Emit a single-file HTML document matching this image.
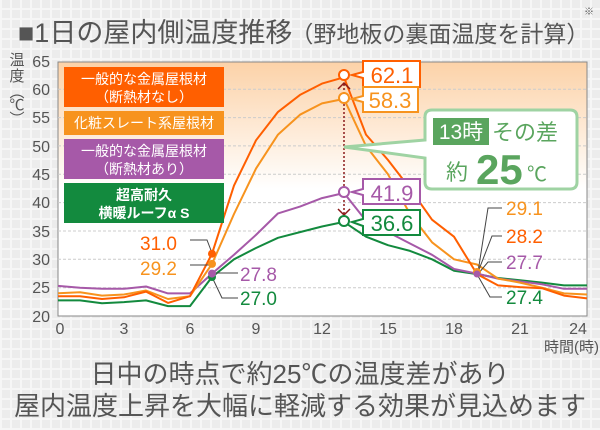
<!DOCTYPE html>
<html><head><meta charset="utf-8"><style>
body{margin:0;width:600px;height:430px;overflow:hidden;background:#ececec;
background-image:repeating-linear-gradient(90deg,#f6f6f6 0 2px,transparent 2px 10px),repeating-linear-gradient(0deg,#f6f6f6 0 2px,transparent 2px 10px);}
svg{position:absolute;left:0;top:0;font-family:"Liberation Sans","Noto Sans CJK JP",sans-serif}
</style></head><body>
<svg width="600" height="430" viewBox="0 0 600 430">
<defs><linearGradient id="g" x1="0" y1="0" x2="0" y2="1"><stop offset="0" stop-color="#fcd2a8"/><stop offset="0.5" stop-color="#fff"/><stop offset="1" stop-color="#fff"/></linearGradient></defs>
<text x="18" y="42" font-size="27" fill="#555">■1日の屋内側温度推移<tspan font-size="23" dx="-2">（野地板の裏面温度を計算）</tspan></text>
<text x="584" y="15" font-size="10" fill="#555">※</text>
<rect x="58" y="62" width="529" height="254" fill="url(#g)" stroke="#888" stroke-width="1"/>
<g stroke="#ccc" stroke-dasharray="3,2" stroke-width="1">
<line x1="58" x2="587" y1="89.2" y2="89.2"/><line x1="58" x2="587" y1="117.6" y2="117.6"/><line x1="58" x2="587" y1="145.9" y2="145.9"/><line x1="58" x2="587" y1="174.3" y2="174.3"/><line x1="58" x2="587" y1="202.6" y2="202.6"/><line x1="58" x2="587" y1="231" y2="231"/><line x1="58" x2="587" y1="259.3" y2="259.3"/><line x1="58" x2="587" y1="287.7" y2="287.7"/>
</g>
<g font-size="16" fill="#555" text-anchor="end">
<text x="50" y="67">65</text><text x="50" y="95">60</text><text x="50" y="123">55</text><text x="50" y="152">50</text><text x="50" y="180">45</text><text x="50" y="208">40</text><text x="50" y="237">35</text><text x="50" y="265">30</text><text x="50" y="293">25</text><text x="50" y="322">20</text>
</g>
<g font-size="16" fill="#555" text-anchor="middle">
<text x="60" y="334">0</text><text x="124" y="334">3</text><text x="190" y="334">6</text><text x="256" y="334">9</text><text x="322" y="334">12</text><text x="388" y="334">15</text><text x="454" y="334">18</text><text x="520" y="334">21</text><text x="578" y="334">24</text>
</g>
<text x="544" y="352" font-size="15" fill="#555">時間(時)</text>
<g font-size="15" fill="#555" text-anchor="middle"><text x="17" y="65">温</text><text x="17" y="81">度</text><text x="17" y="97">︵</text><text x="17" y="110">℃</text><text x="17" y="124">︶</text></g>
<g fill="none" stroke-width="2" stroke-linejoin="round">
<polyline stroke="#138a3e" points="58,300.4 80,300.4 102,303.2 124,302.1 146,300.4 168,306.1 190,306.1 212,277 234,259.3 256,248 278,237.8 300,232.1 322,226.5 344,221.9 366,236.7 388,245.2 410,250.9 432,259.3 454,270.7 477,274.1 498,278 520,280.3 542,282.6 564,285.4 587,285.4"/>
<polyline stroke="#a659a8" points="58,285.9 80,287.7 102,288.8 124,288.8 146,286.5 168,293.4 190,293.4 212,273.6 234,254.8 256,234.9 278,213.4 300,206.6 322,198.1 344,193 366,220.8 388,232.1 410,243.5 432,254.8 454,269 477,273.6 498,278.6 520,281.4 542,284.3 564,288.8 587,288.8"/>
<polyline stroke="#f7931e" points="58,293.3 80,292.2 102,295.6 124,294.5 146,290.5 168,299 190,296.2 212,263.9 234,214 256,168.6 278,134.6 300,114.7 322,103.4 344,98.9 366,146 388,174.3 410,214 432,242.3 454,259.3 477,264.5 498,278.6 520,282.6 542,287.7 564,293.4 587,294.5"/>
<polyline stroke="#ff5f00" points="58,296.2 80,296.2 102,299 124,297.3 146,291.6 168,302.9 190,296.2 212,253.7 234,185.6 256,140.3 278,111.9 300,94.9 322,83.6 344,77.3 366,134.6 388,160 410,188.5 432,219.7 454,236.7 477,274.1 498,285.4 520,287.1 542,288.2 564,295.6 587,298.4"/>
</g>
<line x1="344" y1="84" x2="344" y2="214" stroke="#8b1a1a" stroke-width="1.5" stroke-dasharray="2,2"/>
<polyline points="338,89 344,83 350,89" fill="none" stroke="#8b1a1a" stroke-width="1.5"/>
<polyline points="338,209 344,215 350,209" fill="none" stroke="#8b1a1a" stroke-width="1.5"/>
<g stroke-width="2" fill="#fff"><circle cx="344" cy="75" r="5" stroke="#ff5f00"/><circle cx="344" cy="98" r="5" stroke="#f7931e"/><circle cx="344" cy="192" r="5" stroke="#a659a8"/><circle cx="344" cy="221" r="5" stroke="#138a3e"/></g>
<g stroke-width="2" fill="#fff">
<path d="M363,61 H420 V87 H363 V78 L352,75 L363,72 Z" stroke="#ff5f00"/>
<path d="M363,87 H418 V112 H363 V102 L352,99 L363,96 Z" stroke="#f7931e"/>
<path d="M363,179 H420 V204 H363 V195 L352,192 L363,189 Z" stroke="#a659a8"/>
<path d="M363,210 H420 V235 H363 V226 L352,222 L363,219 Z" stroke="#138a3e"/>
</g>
<g font-size="22" text-anchor="middle"><text x="392" y="83" fill="#ff5f00">62.1</text><text x="390" y="108" fill="#f7931e">58.3</text><text x="392" y="201" fill="#a659a8">41.9</text><text x="392" y="231" fill="#138a3e">36.6</text></g>
<path d="M432,110 H570 Q577,110 577,117 V182 Q577,189 570,189 H432 Q425,189 425,182 V158 L344,147 L425,140 V117 Q425,110 432,110 Z" fill="#fff" stroke="#9fd3a3" stroke-width="3"/>
<rect x="433" y="118" width="56" height="27" fill="#5aa55e"/>
<text x="461" y="139" font-size="21" fill="#fff" text-anchor="middle">13時</text>
<text x="492" y="140" font-size="22" fill="#5aa55e">その差</text>
<text x="446" y="180" font-size="22" fill="#5aa55e">約</text>
<text x="476" y="184" font-size="42" font-weight="bold" fill="#5aa55e">25</text>
<text x="527" y="181" font-size="20" fill="#5aa55e">℃</text>
<rect x="64" y="67" width="160" height="40" fill="#ff5f00"/>
<rect x="64" y="111" width="160" height="24" fill="#f7931e"/>
<rect x="64" y="139" width="160" height="40" fill="#a659a8"/>
<rect x="64" y="183" width="160" height="40" fill="#138a3e"/>
<g font-size="14" fill="#fff" text-anchor="middle">
<text x="144" y="84">一般的な金属屋根材</text><text x="144" y="102">（断熱材なし）</text>
<text x="144" y="128">化粧スレート系屋根材</text>
<text x="144" y="156">一般的な金属屋根材</text><text x="144" y="174">（断熱材あり）</text>
<text x="144" y="200" font-weight="bold">超高耐久</text><text x="144" y="218" font-weight="bold">横暖ルーフα S</text>
</g>
<g stroke="#444" stroke-width="1" fill="none">
<polyline points="190,240 207,240 212,253"/><polyline points="190,265 210,265"/><polyline points="214,273 238,273"/><polyline points="212,277 222,298 238,298"/>
<polyline points="502,208 488,208 478,272"/><polyline points="502,236 492,236 478,272"/><polyline points="502,262 488,262 478,274"/><polyline points="478,276 490,297 502,297"/>
</g>
<g fill="#ff5f00"><circle cx="212" cy="253.7" r="4"/></g><circle cx="212" cy="263.9" r="4" fill="#f7931e"/><circle cx="212" cy="277" r="4" fill="#138a3e"/><circle cx="212" cy="273.6" r="4" fill="#a659a8"/>
<circle cx="477" cy="272" r="4" fill="#f7931e"/><circle cx="477" cy="274" r="3.5" fill="#a659a8"/>
<g font-size="19"><text x="140" y="250" fill="#ff5f00">31.0</text><text x="140" y="275" fill="#f7931e">29.2</text><text x="240" y="281" fill="#a659a8">27.8</text><text x="240" y="305" fill="#138a3e">27.0</text>
<text x="506" y="215" fill="#f7931e">29.1</text><text x="506" y="243" fill="#ff5f00">28.2</text><text x="506" y="269" fill="#a659a8">27.7</text><text x="506" y="304" fill="#138a3e">27.4</text></g>
<g font-size="26" fill="#555" text-anchor="middle"><text x="300" y="383">日中の時点で約25℃の温度差があり</text><text x="300" y="415">屋内温度上昇を大幅に軽減する効果が見込めます</text></g>
</svg>
</body></html>
